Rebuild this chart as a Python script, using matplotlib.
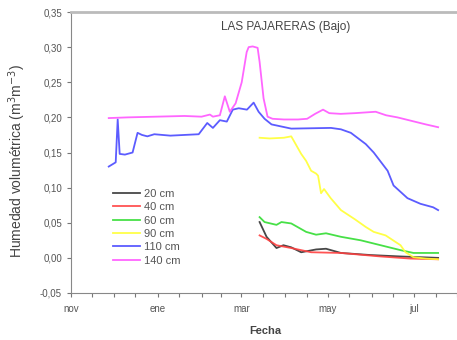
import matplotlib
matplotlib.use("Agg")
import matplotlib.pyplot as plt
from matplotlib.ticker import FixedLocator, FuncFormatter

plt.rcParams['font.family'] = ['Liberation Sans', 'DejaVu Sans']

# x = days since 1 November
d140 = [26.6, 40, 60, 80, 92, 97.9, 100, 104.9, 108.4, 111.9, 116, 120.3, 123.8, 125.2, 128, 131.5,
        132.9, 135.7, 138.5, 142, 150, 160, 166.4, 172, 177.6, 182, 190, 200, 214.7, 222, 230, 240,
        250, 258.7]
v140 = [0.199, 0.200, 0.201, 0.202, 0.201, 0.204, 0.201, 0.203, 0.230, 0.208, 0.220, 0.250, 0.293,
        0.300, 0.301, 0.299, 0.279, 0.227, 0.201, 0.198, 0.197, 0.197, 0.198, 0.205, 0.211, 0.206,
        0.205, 0.206, 0.208, 0.203, 0.200, 0.195, 0.190, 0.186]

d110 = [26.6, 31.5, 32.9, 34.3, 38, 43.4, 46.9, 50, 53.8, 58.7, 70, 80, 90, 96, 100, 104.9, 109.8,
        114, 118.2, 124, 128.7, 132.2, 136.4, 141.3, 155.2, 183.2, 190.2, 197.2, 207.7, 213.3, 223.1,
        227.3, 237.1, 246.2, 255.2, 258.7]
v110 = [0.130, 0.136, 0.197, 0.148, 0.147, 0.150, 0.178, 0.175, 0.173, 0.176, 0.174, 0.175, 0.176,
        0.192, 0.185, 0.196, 0.194, 0.211, 0.213, 0.211, 0.221, 0.208, 0.198, 0.190, 0.184, 0.185,
        0.183, 0.178, 0.162, 0.150, 0.124, 0.103, 0.085, 0.077, 0.072, 0.068]

d90 = [132.9, 140, 150, 155.2, 162.2, 165.7, 169.2, 172.7, 174.1, 176.2, 178.3, 183, 190.2, 200, 207.7,
       213.3, 221.7, 232.2, 235.7, 241.3, 250, 258.7]
v90 = [0.171, 0.170, 0.171, 0.173, 0.148, 0.138, 0.124, 0.120, 0.117, 0.092, 0.098, 0.085, 0.068, 0.055,
       0.044, 0.037, 0.032, 0.018, 0.008, 0.001, -0.001, -0.002]

d60 = [132.9, 136.4, 144.8, 148.3, 155.2, 165.7, 172.7, 179.7, 190.2, 204.2, 218.2, 232.2, 241.3, 258.7]
v60 = [0.058, 0.051, 0.047, 0.051, 0.049, 0.037, 0.033, 0.035, 0.030, 0.025, 0.018, 0.011, 0.007, 0.007]

d40 = [132.9, 137.8, 144.8, 155.2, 169.2, 190.2, 218.2, 239.2, 258.7]
v40 = [0.032, 0.027, 0.018, 0.014, 0.008, 0.007, 0.002, -0.001, -0.002]

d20 = [132.9, 137.8, 144.8, 149.7, 155.2, 162.2, 172.7, 179.7, 190.2, 211.2, 232.2, 258.7]
v20 = [0.051, 0.030, 0.014, 0.018, 0.015, 0.008, 0.012, 0.013, 0.007, 0.004, 0.002, 0.000]

series = [("20 cm", d20, v20, "#333333"),
          ("40 cm", d40, v40, "#ff4040"),
          ("60 cm", d60, v60, "#33dd33"),
          ("90 cm", d90, v90, "#ffff33"),
          ("110 cm", d110, v110, "#4a4aff"),
          ("140 cm", d140, v140, "#ff55ff")]

month_pos = [0, 61, 120, 181, 242]
month_labels = ["nov", "ene", "mar", "may", "jul"]
yticks = [-0.05, 0.00, 0.05, 0.10, 0.15, 0.20, 0.25, 0.30, 0.35]

fig = plt.figure(figsize=(4.57, 3.40), dpi=100)
ax = fig.add_axes([71/457, 1-293/340, 1-71/457, 281/340])

for lab, d, v, c in series:
    ax.plot(d, v, color=c, lw=1.3, label=lab, alpha=0.9)

ax.set_xlim(2.1, 272)
ax.set_ylim(-0.05, 0.35)
ax.set_yticks(yticks)
ax.yaxis.set_major_formatter(FuncFormatter(lambda v, p: f"{v:.2f}".replace(".", ",")))
ax.set_xticks(month_pos)
ax.set_xticklabels(month_labels)
ax.xaxis.set_minor_locator(FixedLocator([15, 30, 45, 76, 92, 106, 135, 151, 166, 196, 212, 227, 257, 272]))

gray = "#555555"
for s in ["left", "bottom", "top"]:
    ax.spines[s].set_color("#888888")
ax.spines["top"].set_color("#bbbbbb")
ax.spines["top"].set_linewidth(2.0)
ax.spines["right"].set_visible(False)
ax.tick_params(axis="both", labelsize=7, colors="#777777", labelcolor=gray, length=3, width=0.8)
ax.tick_params(axis="x", which="minor", length=3, width=0.8, colors="#777777")
ax.tick_params(axis="x", pad=5)

ax.text(0.555, 0.945, "LAS PAJARERAS (Bajo)", transform=ax.transAxes, ha="center", va="center",
        fontsize=8.5, color="#444444")
fig.text(265/457, 1-331/340, "Fecha", ha="center", va="center", fontsize=8, fontweight="bold", color="#444444")
fig.text(17/457, 1-161/340, "Humedad volumétrica (m$^3$m$^{-3}$)", rotation=90, ha="center", va="center",
         fontsize=10, color="#444444")

leg = ax.legend(loc="upper left", bbox_to_anchor=(0.108, 0.37), frameon=False, fontsize=8,
                handlelength=2.5, labelspacing=0.3, handletextpad=0.3, borderaxespad=0,
                borderpad=0)
for t in leg.get_texts():
    t.set_color(gray)

fig.savefig("out.png", dpi=100)
